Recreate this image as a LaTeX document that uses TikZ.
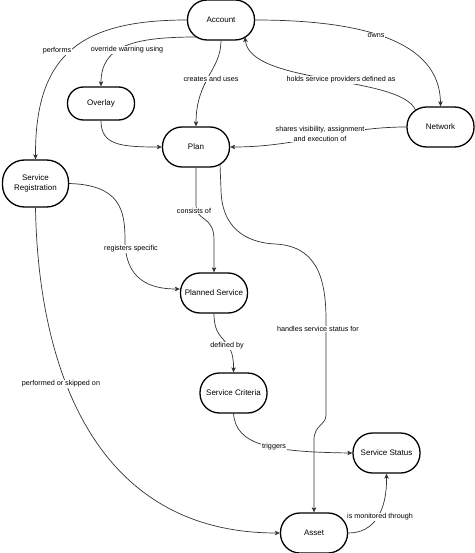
\documentclass[tikz,border=0pt]{standalone}
\usepackage{fontspec}
\setmainfont{Liberation Sans}
\usetikzlibrary{arrows.meta,calc}
\begin{document}
\begin{tikzpicture}[x=1pt,y=-1pt,
 box/.style={draw=black,line width=1.3pt,rounded corners=19.5pt,fill=white,minimum width=67pt,minimum height=40pt,inner sep=1pt,align=center,font=\fontsize{8}{10}\selectfont},
 lbl/.style={fill=white,inner sep=0.8pt,align=center,font=\fontsize{7.2}{9.5}\selectfont},
 con/.style={draw=black!80,line width=0.7pt,-{Stealth[length=5pt,width=4.5pt,inset=1.2pt]}},
]
\useasboundingbox (0,0) rectangle (474,553);
% nodes
\node[box] (Account) at (221,20) {Account};
\node[box,minimum height=33pt,rounded corners=16pt] (Overlay) at (101,103.5) {Overlay};
\node[box] (Plan) at (196,147) {Plan};
\node[box] (Network) at (440.5,127) {Network};
\node[box,minimum height=47pt,minimum width=66pt,rounded corners=22pt] (SR) at (35.5,183.5) {Service\\Registration};
\node[box] (PS) at (214,293) {Planned Service};
\node[box] (SC) at (233.5,393) {Service Criteria};
\node[box] (SS) at (386.5,453) {Service Status};
\node[box] (Asset) at (314,533) {Asset};
% connectors
\draw[con] ($(Account.center)+(-24,17)$) .. controls (135,37) and (101,45) .. (Overlay.north);
\draw[con] (Account.west) .. controls (80,20) and (35,55) .. (SR.north);
\draw[con] (Account.south) .. controls (221,70) and (196,80) .. (Plan.north);
\draw[con] (Account.east) .. controls (360,20) and (440,40) .. (Network.north);
\draw[con] ($(Network.center)+(-25,-17)$) .. controls (400,75) and (250,85) .. ($(Account.center)+(24,17)$);
\draw[con] (Network.west) .. controls (340,127) and (300,147) .. (Plan.east);
\draw[con] (Overlay.south) .. controls (101,145) and (120,147) .. (Plan.west);
\draw[con] (Plan.south) -- (196,205) .. controls (196,222) and (214,215) .. (214,240) -- (PS.north);
\draw[con] ($(Plan.center)+(24,17)$) -- (221,190) .. controls (222,235) and (255,243) .. (275,244) .. controls (315,246) and (326,275) .. (326,320) -- (326,415) .. controls (326,425) and (314,425) .. (314,440) -- (Asset.north);
\draw[con] (SR.east) .. controls (120,185) and (125,210) .. (125,240) .. controls (125,280) and (150,289) .. ($(PS.west)+(0,-4)$);
\draw[con] (SR.south) .. controls (38,360) and (90,533) .. (Asset.west);
\draw[con] (PS.south) .. controls (214,345) and (234,335) .. (SC.north);
\draw[con] (SC.south) .. controls (236,445) and (270,452) .. (SS.west);
\draw[con] (Asset.east) .. controls (375,533) and (387,510) .. (SS.south);
% labels
\node[lbl] (l1) at (127,50) {override warning using};
\node[lbl] (l2) at (57,51) {performs};
\node[lbl] (l3) at (211,79) {creates and uses};
\node[lbl] (l4) at (376,36) {owns};
\node[lbl] (l5) at (341,80) {holds service providers defined as};
\node[lbl] (l6) at (320,134) {shares visibility, assignment\\and execution of};
\node[lbl] (l7) at (194,211) {consists of};
\node[lbl] (l8) at (318,329) {handles service status for};
\node[lbl] (l9) at (131,249) {registers specific};
\node[lbl] (l10) at (61,384) {performed or skipped on};
\node[lbl] (l11) at (227,346) {defined by};
\node[lbl] (l12) at (274,447) {triggers};
\node[lbl] (l13) at (380,517) {is monitored through};
\end{tikzpicture}
\end{document}
